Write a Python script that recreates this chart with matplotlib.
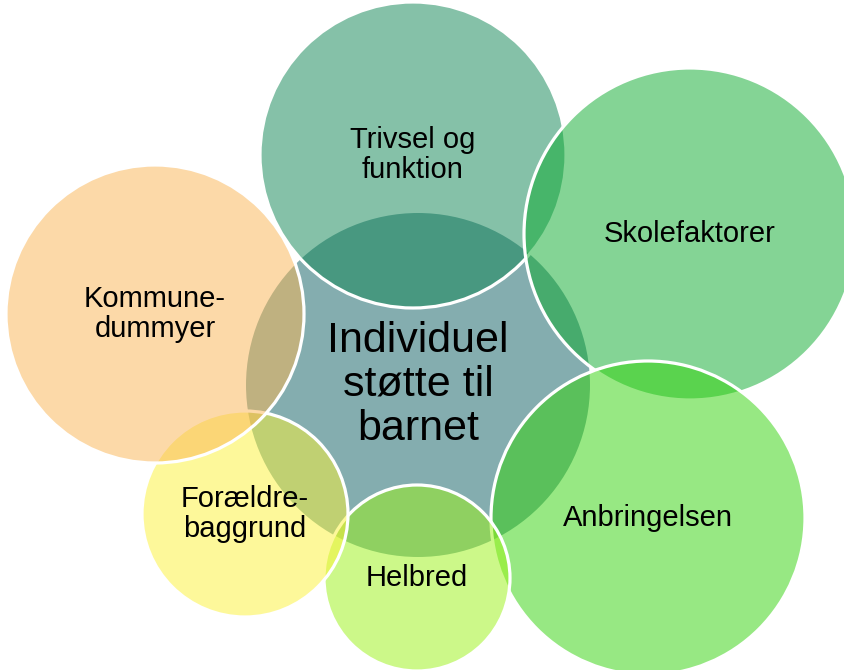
import matplotlib.pyplot as plt
from matplotlib.patches import Circle

plt.rcParams['font.family'] = ['Liberation Sans', 'DejaVu Sans']

# centre circle
centre_label = 'Individuel\nstøtte til\nbarnet'
centre_xy = (418, 385)
centre_r = 172
centre_color = '#84adaf'

# outer circles, in drawing order (later ones lie on top)
labels = ['Trivsel og\nfunktion', 'Skolefaktorer', 'Anbringelsen', 'Helbred',
          'Forældre-\nbaggrund', 'Kommune-\ndummyer']
cx = [413, 690, 648, 417, 245, 155]
cy = [155, 234, 518, 578, 514, 314]
radii = [153, 166, 157, 93, 103, 149]
colors = ['#0d8553', '#0bab2d', '#31d309', '#9bf315', '#fdf337', '#fbb553']

fig = plt.figure(figsize=(8.45, 6.70), dpi=100)
ax = fig.add_axes([0, 0, 1, 1])
ax.set_xlim(0, 845)
ax.set_ylim(670, 0)
ax.set_aspect('equal')
ax.axis('off')

ax.add_patch(Circle(centre_xy, centre_r, facecolor=centre_color, edgecolor='none', zorder=1))

for i in range(len(labels)):
    ax.add_patch(Circle((cx[i], cy[i]), radii[i], facecolor=colors[i], alpha=0.5,
                        edgecolor='none', zorder=2 + i))
    # white outline drawn opaque
    ax.add_patch(Circle((cx[i], cy[i]), radii[i], facecolor='none', edgecolor='white',
                        linewidth=2.3, zorder=2 + i))

ax.text(centre_xy[0], centre_xy[1], centre_label, ha='center', va='center',
        fontsize=31, linespacing=1.12, zorder=20)
for i in range(len(labels)):
    ax.text(cx[i], cy[i], labels[i], ha='center', va='center',
            fontsize=21, linespacing=1.05, zorder=20)

fig.savefig('out.png', dpi=100)
